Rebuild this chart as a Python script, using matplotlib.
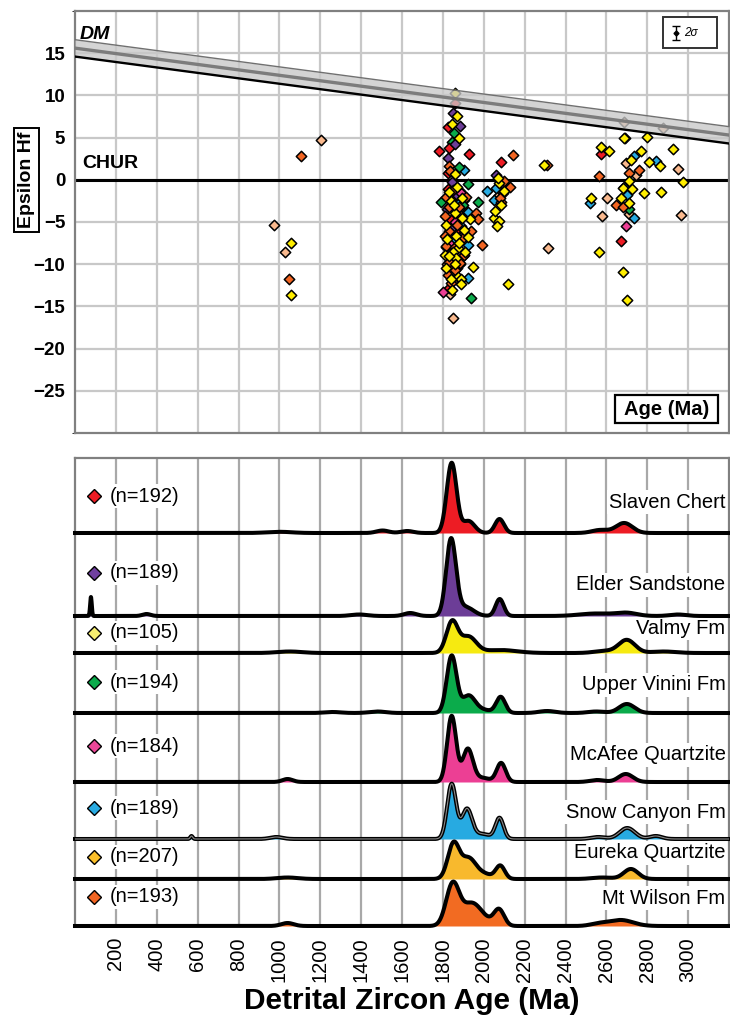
import matplotlib
matplotlib.use('Agg')
import matplotlib.pyplot as plt
import numpy as np
from matplotlib.patches import Rectangle

plt.rcParams['font.family'] = ['Liberation Sans', 'DejaVu Sans']

# ------------------------------------------------------------------ data
# Hf isotope data (age Ma, epsilon Hf) by sample colour
hf_peach = [(1202, 4.7), (972, -5.4), (1029, -8.6), (1886, -1.3), (1905, -3.6), (1840, -7.3),
            (1837, -13.5), (1848, -16.4), (2695, 2.0), (2951, 1.3), (2744, 0.6), (2602, -2.2),
            (2712, -4.1), (2581, -4.3), (2967, -4.2), (2313, -8.1), (1865, -2.0), (1820, -10.0),
            (1880, -12.0), (1855, -5.8), (2075, -1.8), (2687, 6.8), (2875, 6.1)]
hf_blue = [(1902, 1.2), (2016, -1.3), (2060, -1.0), (2052, -2.4), (1873, -2.8), (1922, -3.8),
           (1922, -7.7), (1922, -11.6), (2736, 2.8), (2842, 2.2), (2687, -0.8), (2521, -2.8),
           (2703, -1.8), (2733, -4.5), (1890, -5.5), (1850, -7.0), (1870, -10.5), (2690, 5.0),
           (1905, -2.4)]
hf_green = [(1853, 5.5), (1843, 4.5), (1922, -0.5), (1792, -2.6), (1971, -2.6), (1938, -14.0),
            (2712, -3.5), (1862, -4.2), (1825, -6.4), (1900, -3.0), (1845, -9.6), (1880, 1.5)]
hf_red = [(1827, 6.2), (1832, 3.8), (1783, 3.4), (1930, 3.0), (2085, 2.1), (1824, 0.8),
          (1824, -1.1), (2093, -1.6), (2573, 3.0), (2671, -7.3), (1840, -4.8), (1815, -8.0),
          (1850, -2.0), (1862, -6.0), (1835, -10.5), (1880, -3.5), (1828, -12.8), (1900, -9.0),
          (1857, 9.1)]
hf_purple = [(1848, 7.9), (1886, 6.4), (1860, 4.2), (1824, 2.6), (2060, 0.6), (2101, -0.6),
             (1845, -0.3), (1870, -1.8), (1838, -5.8), (1885, -10.0), (1818, -3.5), (1900, -6.5)]
hf_pink = [(1799, -13.3), (2695, -5.5), (1858, -5.0), (1890, -1.6), (1835, -7.6)]
hf_orange = [(1108, 2.8), (1049, -11.8), (2142, 2.9), (1832, 1.6), (2130, -0.8), (1913, -2.0),
             (2085, -2.6), (2081, -2.2), (1832, -3.2), (1963, -3.9), (1808, -4.3), (1889, -4.3),
             (1971, -4.7), (1870, -5.3), (1832, -6.1), (1938, -6.1), (1808, -6.7), (1897, -6.9),
             (1990, -7.7), (1816, -7.9), (1905, -8.9), (1832, -9.7), (1857, -10.7), (1824, -11.3),
             (2311, 1.8), (2761, 1.2), (2712, 0.8), (2565, 0.5), (2647, -3.0), (2679, -3.2),
             (1835, 1.0), (1850, -1.2), (1878, -3.2), (1860, -8.0), (1840, -12.2), (1885, -9.8),
             (1815, -2.0), (2100, -0.2)]
hf_yellow = [(1055, -7.5), (1055, -13.6), (1868, 7.6), (1843, 6.6), (1878, 4.9), (1860, 0.7),
             (2077, -0.4), (2101, -1.3), (1840, -2.5), (1857, -3.9), (1935, -4.7), (2049, -4.5),
             (2077, -4.9), (2065, -5.5), (1816, -5.3), (1905, -5.9), (1865, -6.7), (1873, -8.1),
             (1848, -8.5), (1808, -8.9), (1865, -9.3), (1816, -10.4), (1946, -10.3), (1873, -11.5),
             (1889, -11.7), (1840, -11.8), (1889, -12.4), (2117, -12.4), (2068, 0.2), (2085, -3.0),
             (2055, -3.7), (2296, 1.8), (2684, 4.9), (2798, 5.1), (2573, 3.9), (2614, 3.4),
             (2769, 3.4), (2720, 2.3), (2928, 3.6), (2809, 2.1), (2863, 1.6), (2977, -0.3),
             (2712, -0.2), (2679, -1.0), (2723, -1.1), (2782, -1.6), (2866, -1.5), (2524, -2.2),
             (2671, -2.2), (2712, -2.7), (2562, -8.6), (2679, -10.9), (2699, -14.3), (1830, -1.5),
             (1852, -3.0), (1895, -2.2), (1820, -7.0), (1880, -7.5), (1910, -8.5), (1858, -10.0),
             (1830, -9.0), (1895, -4.5), (1845, -13.0), (1870, -0.8), (1925, -6.8), (1857, 10.3)]

# Depleted mantle evolution (age, epsilon Hf) and its uncertainty half-width
dm_age = [0, 3200]
dm_eps = [15.6, 5.3]
dm_halfwidth = 1.0
hf_2sigma = 0.8

# Detrital zircon KDE samples
sample_names = ['Slaven Chert', 'Elder Sandstone', 'Valmy Fm', 'Upper Vinini Fm',
                'McAfee Quartzite', 'Snow Canyon Fm', 'Eureka Quartzite', 'Mt Wilson Fm']
sample_n = [192, 189, 105, 194, 184, 189, 207, 193]
# KDE peak components (age Ma, relative height, width Ma)
kde_slaven = [(1843, 70, 24), (1925, 12, 30), (2077, 14, 22), (2687, 10, 40), (2570, 3, 40),
              (1505, 2.5, 30), (1625, 2, 30), (1000, 1.2, 60)]
kde_elder = [(1840, 76, 24), (1910, 9, 40), (2078, 17, 20), (78, 19, 4), (350, 2, 20),
             (1390, 1.5, 40), (1640, 3, 30), (2550, 2.5, 80), (2700, 3, 50), (2950, 1.5, 40)]
kde_valmy = [(1845, 31, 28), (1925, 16, 38), (2080, 3, 80), (2700, 13, 40), (2590, 2, 50),
             (1050, 1.5, 60), (2880, 1.5, 60)]
kde_vinini = [(1843, 57, 24), (1925, 17, 32), (2083, 16, 22), (2700, 9, 38), (2310, 2, 40),
              (1480, 1.5, 40), (1260, 1, 40), (2550, 1.5, 40), (1995, 3, 40)]
kde_mcafee = [(1843, 66, 22), (1922, 33, 25), (2085, 19, 22), (2695, 8, 35), (1040, 3, 25),
              (2555, 2, 35), (1995, 4, 35)]
kde_snow = [(1843, 55, 22), (1918, 30, 25), (2077, 21, 20), (2702, 11, 38), (2842, 3, 30),
            (2560, 2, 35), (570, 3, 6), (985, 2, 30), (1995, 5, 35)]
kde_eureka = [(1852, 35, 28), (1925, 20, 35), (2000, 5, 40), (2081, 13, 22), (2720, 10, 35),
              (2580, 1.5, 50), (1040, 1.5, 50)]
kde_wilson = [(1848, 41.5, 32), (1940, 22, 45), (2075, 16, 25), (2010, 4, 40), (2670, 6, 60),
              (2560, 2, 40), (1040, 3, 30)]
kde_peaks = [kde_slaven, kde_elder, kde_valmy, kde_vinini, kde_mcafee, kde_snow, kde_eureka,
             kde_wilson]

age_ticks = list(range(200, 3001, 200))
eps_ticks = [15, 10, 5, 0, -5, -10, -15, -20, -25]

# ------------------------------------------------------------------ styles / layout
W, H = 730, 1018
fill_colors = ['#ed1c24', '#6c3d97', '#f6ea10', '#0bab4b', '#ec3f94', '#27aae1', '#f8b92d', '#f26b22']
key_colors = ['#ed1c24', '#7040a0', '#f7ef70', '#0bab4b', '#ec4899', '#29abe2', '#fbbf2a', '#f26522']
hf_groups = [(hf_peach, '#f9b98e'), (hf_blue, '#27aae1'), (hf_green, '#0bab4b'),
             (hf_red, '#ed1c24'), (hf_purple, '#6c3d97'), (hf_pink, '#ec3f94'),
             (hf_orange, '#f26522'), (hf_yellow, '#ffee00')]
baselines_px = [533, 616, 653, 713, 782, 839, 879, 926]
nlabel_px = [496, 573, 633, 682, 746, 808, 857, 897]
name_px = [502, 585, 628, 685, 755, 812, 853, 898]

fig = plt.figure(figsize=(W / 100, H / 100), dpi=100)

def fx(px):
    return px / W

def fy(py):
    return 1 - py / H

# ---------------- top panel
ax1 = fig.add_axes([fx(75), fy(433), fx(729) - fx(75), fy(11) - fy(433)])
ax1.set_xlim(0, 3200)
ax1.set_ylim(-30, 20)
ax1.set_xticks(age_ticks)
ax1.set_xticklabels([])
ax1.set_yticks(eps_ticks)
ax1.set_yticklabels([str(v).replace('-', '\u2212') for v in eps_ticks],
                    fontsize=13.5, fontweight='bold')
ax1.tick_params(length=0, pad=7)
ax1.set_yticks([20, -30], minor=True)
ax1.grid(True, color='#c8c8c8', lw=1.6, zorder=0)
ax1.set_axisbelow(True)
for s in ax1.spines.values():
    s.set_color('#808080')
    s.set_linewidth(1.6)

ax1.axhline(0, color='black', lw=2.2, zorder=2)

for pts, col in hf_groups:
    a = [p[0] for p in pts]
    e = [p[1] for p in pts]
    ax1.scatter(a, e, marker='D', s=28, facecolor=col, edgecolor='black', linewidth=1.1, zorder=3)

dm_age_a = np.array(dm_age, float)
dm_eps_a = np.array(dm_eps, float)
ax1.fill_between(dm_age_a, dm_eps_a - dm_halfwidth, dm_eps_a + dm_halfwidth,
                 color='#c8c8c8', alpha=0.78, lw=0, zorder=4)
ax1.plot(dm_age_a, dm_eps_a + dm_halfwidth, color='#707070', lw=1.0, zorder=5)
ax1.plot(dm_age_a, dm_eps_a, color='#7c7c7c', lw=2.4, zorder=5)
ax1.plot(dm_age_a, dm_eps_a - dm_halfwidth, color='black', lw=1.7, zorder=5)

ax1.text(25, 17.2, 'DM', fontsize=14, fontweight='bold', fontstyle='italic',
         ha='left', va='center', zorder=6)
ax1.text(35, 1.9, 'CHUR', fontsize=14, fontweight='bold', ha='left', va='center', zorder=6)

# 2 sigma key
ax1.add_patch(Rectangle((0.8987, 0.9116), 0.0826, 0.0734, transform=ax1.transAxes,
                        fc='white', ec='#333333', lw=1.4, zorder=6))
ax1.errorbar([2940], [17.4], yerr=hf_2sigma, fmt='D', ms=2.5, color='black', capsize=3,
             lw=1.0, capthick=1.0, zorder=7)
ax1.text(2980, 17.4, '2\u03c3', fontsize=8.5, fontstyle='italic', ha='left', va='center', zorder=7)

# Age (Ma) key
ax1.add_patch(Rectangle((0.8257, 0.023), 0.1575, 0.067, transform=ax1.transAxes,
                        fc='white', ec='black', lw=1.6, zorder=6))
ax1.text(0.9045, 0.0565, 'Age (Ma)', transform=ax1.transAxes, fontsize=14.5,
         fontweight='bold', ha='center', va='center', zorder=7)

fig.text(fx(26.5), fy(180), 'Epsilon Hf', rotation=90, ha='center', va='center',
         fontsize=14, fontweight='bold',
         bbox=dict(boxstyle='square,pad=0.22', fc='white', ec='black', lw=1.4))

# ---------------- bottom panel
ax2 = fig.add_axes([fx(75), fy(926), fx(729) - fx(75), fy(458) - fy(926)])
ax2.set_xlim(0, 3200)
ax2.set_ylim(0, 926 - 458)
ax2.set_yticks([])
ax2.set_xticks(age_ticks)
ax2.set_xticklabels([str(v) for v in age_ticks], rotation=90, fontsize=14.5)
ax2.tick_params(length=0, pad=8)
ax2.grid(axis='x', color='#a8a8a8', lw=1.6, zorder=0)
ax2.set_axisbelow(True)
for k, s in ax2.spines.items():
    s.set_color('#808080')
    s.set_linewidth(1.6)
ax2.spines['bottom'].set_visible(False)

xs = np.linspace(0, 3200, 3201)
for i, peaks in enumerate(kde_peaks):
    base = 926 - baselines_px[i]
    dens = np.zeros_like(xs)
    for a, h, sg in peaks:
        dens += h * np.exp(-0.5 * ((xs - a) / sg) ** 2)
    y = base + dens
    z = 3 + i * 0.1
    ax2.fill_between(xs, base, y, color=fill_colors[i], lw=0, zorder=z)
    ax2.plot(xs, y, color='black', lw=2.9, zorder=z + 0.05, clip_on=False,
             solid_joinstyle='round')
    if sample_names[i] == 'Snow Canyon Fm':
        ax2.plot(xs, y, color='#8a8a8a', lw=0.8, zorder=z + 0.06)

    ax2.plot([94], [926 - nlabel_px[i]], marker='D', ms=7.3, mfc=key_colors[i], mec='black',
             mew=1.0, zorder=2.6, ls='none')
    ax2.text(171, 926 - nlabel_px[i], '(n=%d)' % sample_n[i], fontsize=14.5, ha='left',
             va='center', zorder=2.5,
             bbox=dict(boxstyle='square,pad=0.1', fc='white', ec='none'))
    ax2.text(3183, 926 - name_px[i], sample_names[i], fontsize=14.5, ha='right',
             va='center', zorder=2.5,
             bbox=dict(boxstyle='square,pad=0.1', fc='white', ec='none'))

fig.text(fx(412), fy(1001), 'Detrital Zircon Age (Ma)', ha='center', va='center',
         fontsize=21.5, fontweight='bold')

fig.savefig('out.png', dpi=100)
